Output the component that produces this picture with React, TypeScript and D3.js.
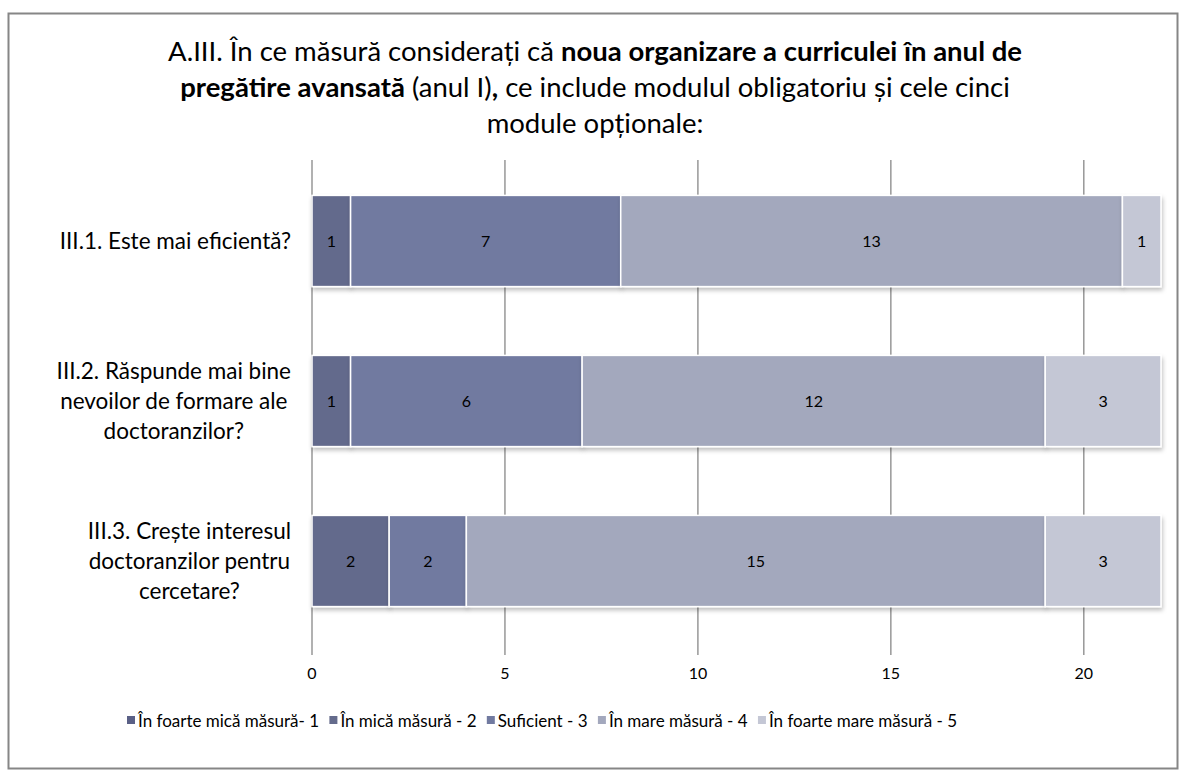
import React, { useMemo, useRef, useLayoutEffect, useState } from 'react';
import * as d3 from 'd3';

// date
const categories = [
  ['III.1. Este mai eficientă?'],
  ['III.2. Răspunde mai bine', 'nevoilor de formare ale', 'doctoranzilor?'],
  ['III.3. Crește interesul', 'doctoranzilor pentru', 'cercetare?'],
];
const seriesNames = [
  'În foarte mică măsură- 1',
  'În mică măsură - 2',
  'Suficient - 3',
  'În mare măsură - 4',
  'În foarte mare măsură - 5',
];
const foarteMica = [0, 0, 0];
const mica = [1, 1, 2];
const suficient = [7, 6, 2];
const mare = [13, 12, 15];
const foarteMare = [1, 3, 3];
const xTicks = [0, 5, 10, 15, 20];

const colors = ['#5a6086', '#646b8c', '#717aa0', '#a3a8bd', '#c4c7d5'];

const W = 1186;
const H = 780;
const FONT = 'Lato, "Open Sans", sans-serif';

const App = () => {
  const rows = useMemo(
    () =>
      categories.map((c, i) => ({
        key: i,
        s0: foarteMica[i],
        s1: mica[i],
        s2: suficient[i],
        s3: mare[i],
        s4: foarteMare[i],
      })),
    []
  );

  const stacked = useMemo(
    () => d3.stack<any>().keys(['s0', 's1', 's2', 's3', 's4'])(rows),
    [rows]
  );

  const x = d3.scaleLinear().domain([0, 22]).range([312, 1161]);
  const y = d3
    .scaleBand<number>()
    .domain(rows.map((r) => r.key))
    .range([161, 641])
    .paddingInner(0.43)
    .paddingOuter(0.215);

  // legenda intre x=127 si x=957
  const legStart = 127;
  const legEnd = 957;
  const mark = 11;

  const catRef = useRef<SVGGElement>(null);
  const legRef = useRef<SVGGElement>(null);
  const [blockW, setBlockW] = useState<number[]>(categories.map(() => 200));
  const [legX, setLegX] = useState<number[]>(seriesNames.map((_, i) => legStart + i * 170));

  useLayoutEffect(() => {
    if (catRef.current) {
      const ws = categories.map((_, i) => {
        const nodes = catRef.current!.querySelectorAll(`text[data-cat="${i}"]`);
        let m = 0;
        nodes.forEach((n) => {
          m = Math.max(m, (n as SVGTextElement).getComputedTextLength());
        });
        return m;
      });
      setBlockW(ws);
    }
    if (legRef.current) {
      const tw = Array.from(legRef.current.querySelectorAll('text')).map((n) =>
        (n as SVGTextElement).getComputedTextLength()
      );
      const total = d3.sum(tw) + mark * tw.length;
      const gap = (legEnd - legStart - total) / (tw.length - 1);
      let cur = legStart;
      const xs = tw.map((w) => {
        const p = cur;
        cur += mark + w + gap;
        return p;
      });
      setLegX(xs);
    }
  }, []);

  return (
    <svg width={W} height={H} style={{ position: 'absolute', left: 0, top: 0 }}>
      <defs>
        <filter id="umbra" x="-5%" y="-10%" width="110%" height="130%">
          <feDropShadow dx="1" dy="3" stdDeviation="2" floodColor="#000" floodOpacity="0.25" />
        </filter>
      </defs>
      <rect x={0} y={0} width={W} height={H} fill="#fff" />
      <rect x={8.5} y={13.5} width={1169} height={755} fill="#fff" stroke="#868686" strokeWidth={2} />

      {/* titlu */}
      <g fontFamily={FONT} fontSize={27.5} textAnchor="middle" fill="#000">
        <text x={595} y={61}>
          A.III. În ce măsură considerați că{' '}
          <tspan fontWeight="bold">noua organizare a curriculei în anul de</tspan>
        </text>
        <text x={595} y={97}>
          <tspan fontWeight="bold">pregătire avansată</tspan> (anul I)<tspan fontWeight="bold">,</tspan> ce include
          modulul obligatoriu și cele cinci
        </text>
        <text x={595} y={133}>module opționale:</text>
      </g>

      {/* grila */}
      {xTicks.map((t) => (
        <line key={t} x1={x(t)} x2={x(t)} y1={160} y2={655} stroke="#878787" strokeWidth={1.3} />
      ))}

      {/* bare */}
      {stacked.map((s, si) => (
        <g key={si} fill={colors[si]} filter="url(#umbra)">
          {s.map((d, i) =>
            d[1] - d[0] > 0 ? (
              <rect
                key={i}
                x={x(d[0])}
                y={y(i)}
                width={x(d[1]) - x(d[0])}
                height={y.bandwidth()}
                stroke="#fff"
                strokeWidth={1.5}
              />
            ) : null
          )}
        </g>
      ))}

      {/* etichete valori */}
      {stacked.map((s, si) => (
        <g key={si} fontFamily={FONT} fontSize={16} textAnchor="middle" fill="#000">
          {s.map((d, i) =>
            d[1] - d[0] > 0 ? (
              <text key={i} x={(x(d[0]) + x(d[1])) / 2} y={y(i)! + y.bandwidth() / 2 + 6}>
                {d[1] - d[0]}
              </text>
            ) : null
          )}
        </g>
      ))}

      {/* categorii */}
      <g ref={catRef} fontFamily={FONT} fontSize={22.5} textAnchor="middle" fill="#000">
        {categories.map((lines, i) => {
          const cy = y(i)! + y.bandwidth() / 2;
          const cx = 291 - blockW[i] / 2;
          return lines.map((l, j) => (
            <text
              key={i + '-' + j}
              data-cat={i}
              x={cx}
              y={cy + (j - (lines.length - 1) / 2) * 30 + 8}
            >
              {l}
            </text>
          ));
        })}
      </g>

      {/* axa x */}
      <g fontFamily={FONT} fontSize={16} textAnchor="middle" fill="#000">
        {xTicks.map((t) => (
          <text key={t} x={x(t)} y={679}>
            {t}
          </text>
        ))}
      </g>

      {/* legenda */}
      <g ref={legRef} fontFamily={FONT} fontSize={17} fill="#000">
        {seriesNames.map((n, i) => (
          <g key={n} transform={`translate(${legX[i]},0)`}>
            <rect x={0} y={716} width={8} height={8} fill={colors[i]} />
            <text x={mark} y={727}>
              {n}
            </text>
          </g>
        ))}
      </g>
    </svg>
  );
};

export default App;
